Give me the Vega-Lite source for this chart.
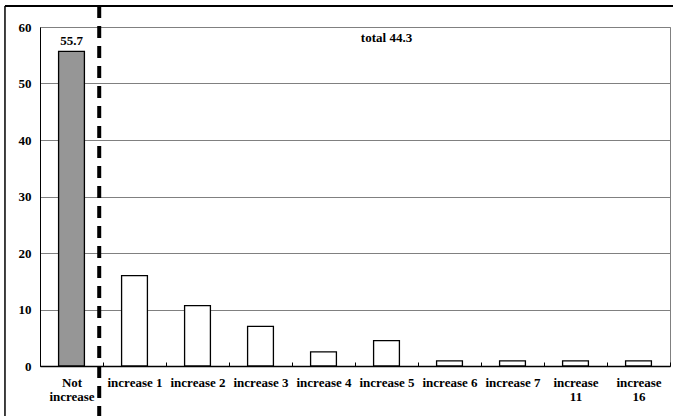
{
  "$schema": "https://vega.github.io/schema/vega-lite/v6.json",
  "autosize": "none",
  "width": 630,
  "height": 339,
  "padding": {"left": 40, "top": 27, "right": 3, "bottom": 50},
  "background": "white",
  "config": {
    "view": {"stroke": "#808080", "strokeWidth": 1},
    "font": "Liberation Serif, serif",
    "axis": {
      "labelFont": "Liberation Serif, serif",
      "labelFontWeight": "bold",
      "labelFontSize": 13,
      "labelColor": "black",
      "title": null
    }
  },
  "data": {
    "values": [
      {"cat": "Not increase", "value": 55.7},
      {"cat": "increase 1", "value": 16.0},
      {"cat": "increase 2", "value": 10.7},
      {"cat": "increase 3", "value": 7.0},
      {"cat": "increase 4", "value": 2.5},
      {"cat": "increase 5", "value": 4.5},
      {"cat": "increase 6", "value": 0.9},
      {"cat": "increase 7", "value": 0.9},
      {"cat": "increase 11", "value": 0.9},
      {"cat": "increase 16", "value": 0.9}
    ]
  },
  "resolve": {"scale": {"x": "independent"}},
  "layer": [
    {
      "mark": {"type": "bar", "width": {"band": 0.41}, "stroke": "black", "strokeWidth": 1.3},
      "encoding": {
        "x": {
          "field": "cat",
          "type": "nominal",
          "sort": null,
          "scale": {"paddingInner": 0, "paddingOuter": 0},
          "axis": {
            "labelAngle": 0,
            "labelPadding": 14,
            "labelLineHeight": 14,
            "domainColor": "black",
            "domainWidth": 1.5,
            "tickColor": "black",
            "tickSize": -4,
            "tickWidth": 1,
            "tickBand": "extent",
            "labelExpr": "datum.value == 'Not increase' ? ['Not','increase'] : datum.value == 'increase 11' ? ['increase','11'] : datum.value == 'increase 16' ? ['increase','16'] : datum.value"
          }
        },
        "y": {
          "field": "value",
          "type": "quantitative",
          "scale": {"domain": [0, 60], "nice": false},
          "axis": {
            "values": [0, 10, 20, 30, 40, 50, 60],
            "grid": true,
            "gridColor": "#808080",
            "gridWidth": 1,
            "ticks": false,
            "labelPadding": 9,
            "domainColor": "black",
            "domainWidth": 1
          }
        },
        "fill": {
          "condition": {"test": "datum.cat == 'Not increase'", "value": "#969696"},
          "value": "white"
        }
      }
    },
    {
      "transform": [{"filter": "datum.cat == 'Not increase'"}],
      "mark": {"type": "text", "dy": -3, "baseline": "bottom", "fontWeight": "bold", "fontSize": 13, "font": "Liberation Serif, serif", "color": "black"},
      "encoding": {
        "x": {"field": "cat", "type": "nominal", "scale": {"domain": ["Not increase","increase 1","increase 2","increase 3","increase 4","increase 5","increase 6","increase 7","increase 11","increase 16"], "paddingInner": 0, "paddingOuter": 0}, "axis": null},
        "y": {"field": "value", "type": "quantitative"},
        "text": {"field": "value", "type": "quantitative", "format": ".1f"}
      }
    },
    {
      "data": {"values": [{"label": "total 44.3", "cat": "increase 5", "pos": 58}]},
      "mark": {"type": "text", "baseline": "middle", "align": "center", "fontWeight": "bold", "fontSize": 13, "font": "Liberation Serif, serif", "color": "black"},
      "encoding": {
        "x": {"field": "cat", "type": "nominal", "bandPosition": 0.22, "scale": {"domain": ["Not increase","increase 1","increase 2","increase 3","increase 4","increase 5","increase 6","increase 7","increase 11","increase 16"], "paddingInner": 0, "paddingOuter": 0}, "axis": null},
        "y": {"field": "pos", "type": "quantitative"},
        "text": {"field": "label"}
      }
    },
    {
      "data": {"values": [{"cat": "Not increase", "top": 63.7, "bottom": -9}]},
      "mark": {"type": "rule", "color": "black", "strokeWidth": 4, "strokeDash": [12, 8]},
      "encoding": {
        "x": {"field": "cat", "type": "nominal", "bandPosition": 0.94, "scale": {"domain": ["Not increase","increase 1","increase 2","increase 3","increase 4","increase 5","increase 6","increase 7","increase 11","increase 16"], "paddingInner": 0, "paddingOuter": 0}, "axis": null},
        "y": {"field": "top", "type": "quantitative"},
        "y2": {"field": "bottom"}
      }
    },
    {
      "data": {"values": [{}]},
      "mark": {"type": "rule", "color": "black", "strokeWidth": 2},
      "encoding": {
        "x": {"datum": -0.0556, "type": "quantitative", "scale": {"domain": [0, 1], "nice": false, "zero": false}, "axis": null},
        "x2": {"datum": 1.1},
        "y": {"datum": 63.72, "type": "quantitative"}
      }
    },
    {
      "data": {"values": [{}]},
      "mark": {"type": "rule", "color": "black", "strokeWidth": 1.5},
      "encoding": {
        "x": {"datum": -0.0556, "type": "quantitative", "scale": {"domain": [0, 1], "nice": false, "zero": false}, "axis": null},
        "y": {"datum": 63.72, "type": "quantitative"},
        "y2": {"datum": -9}
      }
    }
  ]
}
